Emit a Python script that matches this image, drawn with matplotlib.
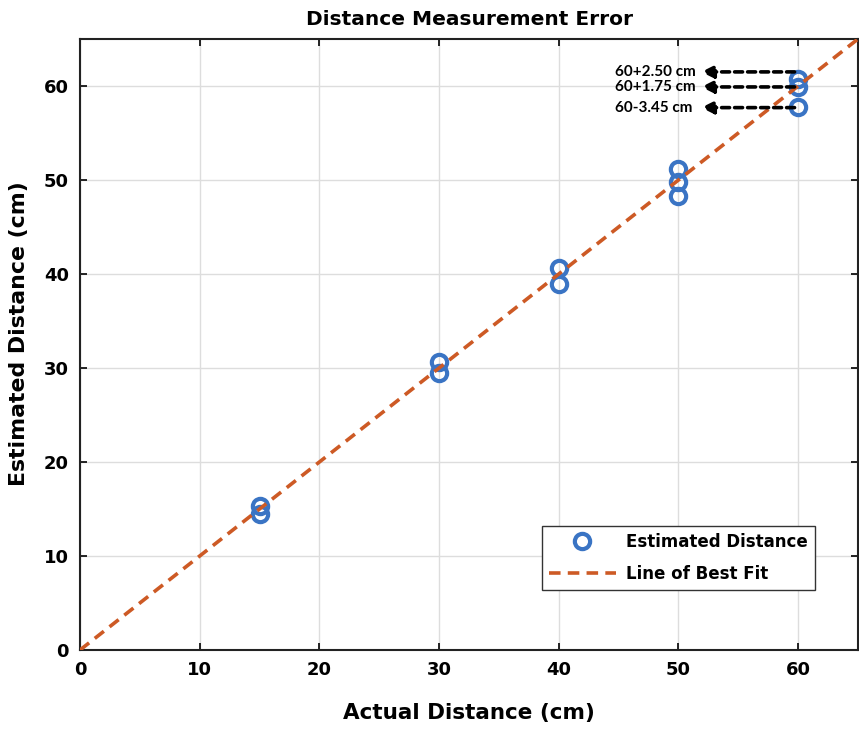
import matplotlib
matplotlib.use("Agg")
import matplotlib.pyplot as plt
import numpy as np

# Data
actual = [15, 15, 30, 30, 40, 40, 50, 50, 50, 60, 60, 60]
estimated = [15.3, 14.5, 30.6, 29.5, 40.6, 38.9, 51.2, 49.8, 48.3, 60.7, 59.9, 57.8]
fit_x = [0, 65]
fit_y = [0, 65]
ann_labels = ["60+2.50 cm", "60+1.75 cm", "60-3.45 cm"]
ann_y = [61.5, 59.9, 57.7]
x_ticks = [0, 10, 20, 30, 40, 50, 60]
y_ticks = [0, 10, 20, 30, 40, 50, 60]

blue = "#3A74C4"
orange = "#CD5A25"

plt.rcParams['font.family'] = ['DejaVu Sans']
plt.rcParams['font.weight'] = 'bold'

fig = plt.figure(figsize=(8.59, 7.30), dpi=100)
ax = fig.add_axes([80/859, 1-650/730, 778/859, 611/730])

ax.plot(actual, estimated, linestyle='none', marker='o', markersize=11,
        markerfacecolor='none', markeredgecolor=blue, markeredgewidth=3.0,
        label='Estimated Distance', zorder=3)
ax.plot(fit_x, fit_y, linestyle=(0, (3.2, 2.0)), color=orange, linewidth=2.6,
        label='Line of Best Fit', zorder=4)

for lab, yv in zip(ann_labels, ann_y):
    ax.annotate('', xy=(51.9, yv), xytext=(59.7, yv),
                arrowprops=dict(arrowstyle='-|>', color='k', lw=2.6,
                                linestyle=(0, (2.2, 1.4)), mutation_scale=18,
                                shrinkA=0, shrinkB=0), zorder=5)
    ax.text(44.7, yv, lab, fontsize=11, fontweight='bold', va='center', ha='left',
            family=['Lato', 'DejaVu Sans'], zorder=5)

ax.set_xlim(0, 65)
ax.set_ylim(0, 65)
ax.set_xticks(x_ticks)
ax.set_yticks(y_ticks)
ax.tick_params(axis='both', direction='in', length=5, width=1.2, labelsize=13,
               top=True, right=True, pad=8)
for lbl in ax.get_xticklabels() + ax.get_yticklabels():
    lbl.set_fontweight('bold')
ax.grid(True, color='#DDDDDD', linewidth=1.0)
ax.set_axisbelow(True)
for s in ax.spines.values():
    s.set_linewidth(1.5)
    s.set_color('#222222')

ax.set_xlabel('Actual Distance (cm)', fontsize=15.5, fontweight='bold', labelpad=17)
ax.set_ylabel('Estimated Distance (cm)', fontsize=15.8, fontweight='bold')
ax.yaxis.set_label_coords(-0.066, 0.518)
ax.set_title('Distance Measurement Error', fontsize=14.5, fontweight='bold', pad=10)

leg = ax.legend(loc='lower right', bbox_to_anchor=(0.9447, 0.098), borderaxespad=0,
                fontsize=12, frameon=True, fancybox=False, edgecolor='#333333',
                framealpha=1, handlelength=4.0, borderpad=0.45, labelspacing=0.8,
                handletextpad=0.6)
leg.get_frame().set_linewidth(1.0)
for t in leg.get_texts():
    t.set_fontweight('bold')

fig.savefig('out.png', dpi=100)
